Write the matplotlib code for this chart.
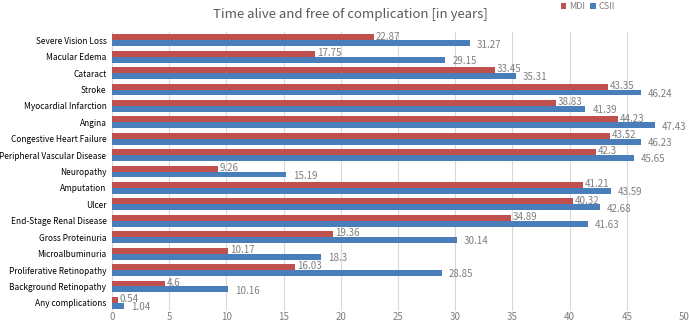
import matplotlib.pyplot as plt
import numpy as np

plt.rcParams['font.family'] = ['Noto Sans CJK SC', 'DejaVu Sans']

categories = ["Severe Vision Loss", "Macular Edema", "Cataract", "Stroke",
              "Myocardial Infarction", "Angina", "Congestive Heart Failure",
              "Peripheral Vascular Disease", "Neuropathy", "Amputation", "Ulcer",
              "End-Stage Renal Disease", "Gross Proteinuria", "Microalbuminuria",
              "Proliferative Retinopathy", "Background Retinopathy", "Any complications"]
mdi = [22.87, 17.75, 33.45, 43.35, 38.83, 44.23, 43.52, 42.3, 9.26, 41.21, 40.32,
       34.89, 19.36, 10.17, 16.03, 4.6, 0.54]
csii = [31.27, 29.15, 35.31, 46.24, 41.39, 47.43, 46.23, 45.65, 15.19, 43.59, 42.68,
        41.63, 30.14, 18.3, 28.85, 10.16, 1.04]

red = '#C0504D'
blue = '#4A7EBB'
gray = '#7F7F7F'

fig = plt.figure(figsize=(6.89, 3.24), dpi=100)
ax = fig.add_axes([0.1626, 0.04, 0.830, 0.861])

y = np.arange(len(categories))
h = 0.36
ax.barh(y - h / 2, mdi, height=h, color=red, label='MDI', zorder=2)
ax.barh(y + h / 2, csii, height=h, color=blue, label='CSII', zorder=2)

for i in range(len(categories)):
    ax.text(mdi[i] + 0.15, y[i] - h / 2 - 0.05, str(mdi[i]), color=gray,
            fontsize=7, va='center', ha='left')
    ax.text(csii[i] + 0.6, y[i] + h / 2 + 0.08, str(csii[i]), color=gray,
            fontsize=7, va='center', ha='left')

ax.set_xlim(0, 50)
ax.set_ylim(len(categories) - 0.5, -0.5)
ax.set_xticks(np.arange(0, 51, 5))
ax.set_yticks(y)
ax.set_yticklabels(categories, fontsize=6.0, color='#000000', weight='medium')
ax.tick_params(axis='x', colors=gray, labelsize=7, length=0, pad=1)
ax.tick_params(axis='y', length=0, pad=4)
ax.grid(axis='x', color='#D9D9D9', linewidth=0.8, zorder=0)
for s in ax.spines.values():
    s.set_visible(False)

fig.text(0.508, 0.955, 'Time alive and free of complication [in years]',
         ha='center', va='center', fontsize=9.5, color='#595959')
fig.legend(loc='upper left', bbox_to_anchor=(0.802, 1.018), ncol=2, frameon=False,
           fontsize=6.5, handlelength=0.6, handleheight=0.6, columnspacing=0.6,
           handletextpad=0.3, labelcolor=gray)

fig.savefig('out.png', dpi=100)
